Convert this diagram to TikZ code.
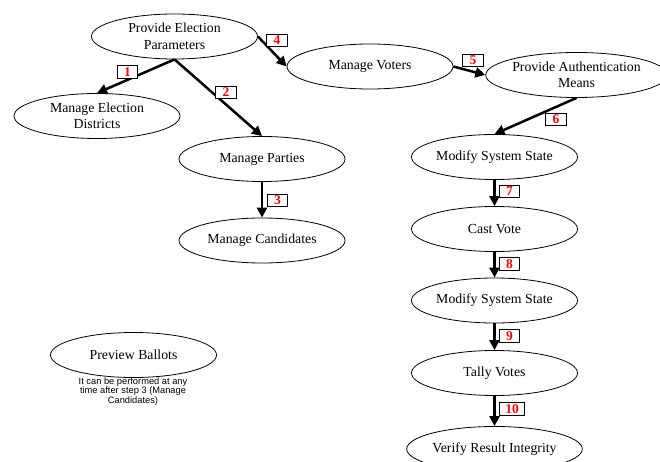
\documentclass[tikz,border=0pt]{standalone}
\usepackage{fontspec}
\setmainfont{Liberation Serif}
\newfontfamily\notefont{Liberation Sans}
\usetikzlibrary{shapes.geometric,arrows.meta}
\tikzset{
  uc/.style={ellipse, draw=black, line width=0.8pt, fill=white, minimum width=166pt, minimum height=45pt, inner sep=0pt, align=center, font=\fontsize{13.8}{16.5}\selectfont},
  arr/.style={line width=2.5pt, -{Triangle[length=10pt,width=10pt]}},
  stepno/.style={draw=black, line width=0.7pt, fill=white, text=red, minimum width=20.5pt, minimum height=12.5pt, inner sep=0pt, font=\fontsize{13.5}{13.5}\selectfont\bfseries},
  note/.style={align=center, font=\notefont\fontsize{9.3}{8.5}\selectfont, inner sep=0pt}
}
\begin{document}
\begin{tikzpicture}[x=1pt,y=-1pt]
\useasboundingbox (0,0) rectangle (660,462);
\node[uc] (pep) at (174.5,36.5) {Provide Election\\Parameters};
\node[uc] (med) at (97,116) {Manage Election\\Districts};
\node[uc] (mp) at (262,159) {Manage Parties};
\node[uc] (mc) at (262,240.5) {Manage Candidates};
\node[uc] (mv) at (370,66.5) {Manage Voters};
\node[uc] (pam) at (576.5,75) {Provide Authentication\\Means};
\node[uc] (mss1) at (494.5,157) {Modify System State};
\node[uc] (cv) at (494.5,229) {Cast Vote};
\node[uc] (mss2) at (494.5,300.5) {Modify System State};
\node[uc] (tv) at (494.5,373) {Tally Votes};
\node[uc] (vri) at (494.5,449) {Verify Result Integrity};
\node[uc] (pb) at (133.5,355) {Preview Ballots};
\node[note] (nt) at (133,391.5) {It can be performed at any\\time after step 3 (Manage\\Candidates)};

\draw[arr] (pep.south) -- (med.north);
\draw[arr] (pep.south) -- (mp.north);
\draw[arr] (mp.south) -- (mc.north);
\draw[arr] (pep.east) -- (mv.west);
\draw[arr] (mv.east) -- (pam.west);
\draw[arr] (pam.south) -- (mss1.north);
\draw[arr] (mss1.south) -- (cv.north);
\draw[arr] (cv.south) -- (mss2.north);
\draw[arr] (mss2.south) -- (tv.north);
\draw[arr] (tv.south) -- (vri.north);

\node[stepno] (s1) at (127.5,72) {1};
\node[stepno] (s2) at (226,92.5) {2};
\node[stepno] (s3) at (277.5,200.5) {3};
\node[stepno] (s4) at (277,40.5) {4};
\node[stepno] (s5) at (473,60.5) {5};
\node[stepno] (s6) at (556,119.5) {6};
\node[stepno] (s7) at (509.5,191.5) {7};
\node[stepno] (s8) at (509.5,264) {8};
\node[stepno] (s9) at (509.5,336) {9};
\node[stepno, minimum width=25.5pt] (s10) at (512,409) {10};
\end{tikzpicture}
\end{document}
